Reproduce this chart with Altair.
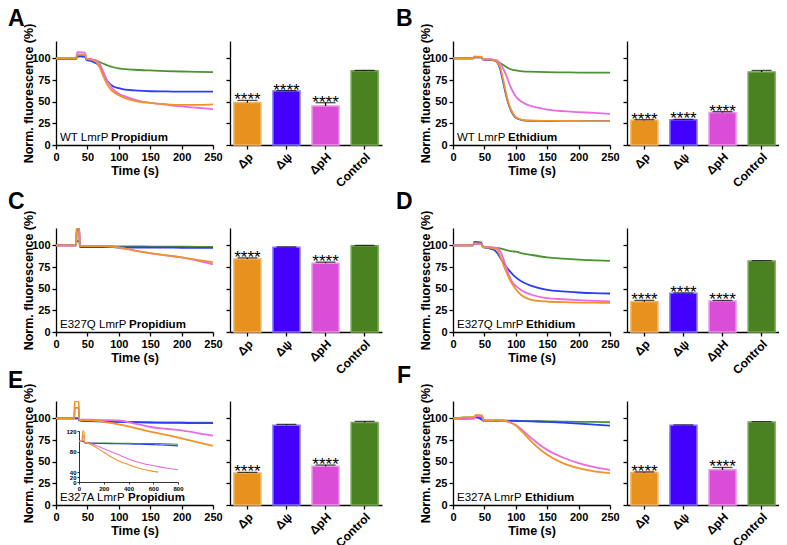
import altair as alt
import pandas as pd

FONT = "Liberation Sans"
SERIES = ["green", "blue", "magenta", "orange"]
LINE_COLORS = ["#4B9231", "#2B3DF8", "#E56DE1", "#F0932A"]
CATS = ["Δp", "Δψ", "ΔpH", "Control"]
BAR_FILL = ["#E8921E", "#4300FF", "#DA4ED7", "#4A8121"]
BAR_STROKE = ["#F2B264", "#7D72FF", "#EE92EC", "#76A852"]
X_TICKS = [0, 50, 100, 150, 200, 250]
Y_TICKS = [0, 25, 50, 75, 100]

# ---------------- Panel A : WT LmrP Propidium ----------------
tA = [0, 10, 20, 32, 34, 46, 49, 55, 60, 65, 70, 75, 80, 85, 90, 100, 110, 125, 150, 175, 200, 225, 250]
A_green = [99, 99, 99, 99, 102, 102, 99.5, 99, 98, 97, 95.5, 94, 92.5, 91, 90, 88.5, 87.5, 86.8, 86, 85.3, 84.8, 84.3, 84]
A_blue = [100, 100, 100, 100, 103, 102, 98, 97, 95.5, 94, 90, 83, 76, 71, 68, 65.5, 64, 63, 62, 61.8, 61.6, 61.5, 61.5]
A_magenta = [100, 100, 100, 100, 107, 106.5, 99.5, 99, 98.5, 97, 93, 85, 76, 70, 65, 59, 56, 52.5, 48.5, 46.5, 44.5, 43, 41.5]
A_orange = [100, 100, 100, 100, 104, 104, 99, 98.5, 97.5, 95, 89, 80, 72, 66, 62, 57.5, 54, 51, 48.5, 47, 46.2, 46.2, 46.8]
A_bar = [48.9, 62.2, 45.1, 85.7]
A_err = [2.5, 0.5, 3.7, 0.5]
A_star = [1, 1, 1, 0]

# ---------------- Panel B : WT LmrP Ethidium ----------------
tB = [0, 10, 20, 32, 34, 45, 48, 55, 60, 65, 70, 75, 80, 85, 90, 95, 100, 110, 120, 135, 150, 175, 200, 225, 250]
B_green = [100, 100, 100, 100, 101.5, 101, 99, 98.5, 98.5, 98, 96.5, 94.5, 92.3, 90, 88, 86.8, 86, 85, 84.7, 84.3, 84, 83.8, 83.6, 83.5, 83.5]
B_blue = [100, 100, 100, 100, 101.5, 101, 98.5, 98, 98, 97.5, 95.5, 88, 72, 56, 44, 36, 31.5, 28.8, 28, 27.8, 27.6, 27.5, 27.5, 27.5, 27.5]
B_magenta = [100, 100, 100, 100, 102, 101.5, 99, 99, 99, 98.5, 97.5, 94, 88, 80, 70, 62, 56, 49.5, 46, 43, 40.8, 39, 38, 37, 36]
B_orange = [100, 100, 100, 100, 102, 102, 99, 98.5, 98.5, 98, 96, 90, 75, 58, 45, 37, 32, 29, 28.2, 28, 27.8, 27.7, 27.7, 27.6, 27.6]
B_bar = [28.5, 29.0, 37.5, 84.3]
B_err = [0.7, 0.6, 1.0, 1.7]
B_star = [1, 1, 1, 0]

# ---------------- Panel C : E327Q LmrP Propidium ----------------
tC = [0, 10, 20, 30, 32, 33, 35, 37, 38, 50, 75, 90, 100, 125, 150, 175, 200, 225, 250]
C_green = [100, 100, 100, 100, 100, 105, 105, 105, 99, 99, 99, 99, 98.8, 98.8, 98.6, 98.5, 98.4, 98.3, 98.2]
C_blue = [100, 100, 100, 100, 100, 118, 118, 118, 98, 98, 98, 98, 97.5, 97.5, 97.5, 97.3, 97.2, 97, 97]
C_magenta = [100, 100, 100, 100, 100, 120, 120, 120, 99, 99, 99, 98.5, 97.5, 94, 91, 88.5, 86, 82.5, 78]
C_orange = [100, 100, 100, 100, 100, 120, 120, 120, 99, 99, 99, 98.5, 97.5, 94, 91, 88.5, 86, 83.2, 80.5]
C_bar = [84.3, 97.8, 79.4, 99.5]
C_err = [1.2, 0.3, 1.2, 0.5]
C_star = [1, 0, 1, 0]

# ---------------- Panel D : E327Q LmrP Ethidium ----------------
tD = [0, 10, 20, 32, 34, 45, 48, 55, 60, 65, 70, 75, 80, 85, 90, 95, 100, 110, 125, 150, 175, 200, 225, 250]
D_green = [100, 100, 100, 100, 102, 101.5, 98, 97.5, 97.5, 97, 97, 96.5, 95.5, 94.5, 93.5, 93, 92.7, 90.8, 88.9, 86.2, 84.7, 83.5, 82.7, 82]
D_blue = [100, 100, 100, 100, 104, 103, 98, 97, 96, 95, 91.5, 86, 80, 75, 70.5, 66.5, 63, 58, 53.3, 48.7, 46.8, 45.6, 44.8, 44.4]
D_magenta = [100, 100, 100, 100, 102, 101.5, 98.5, 98, 98, 97.5, 97, 93.5, 85, 74, 64, 57, 53.3, 47.5, 43, 39, 37.8, 36.8, 36, 35.3]
D_orange = [100, 100, 100, 100, 102.5, 102, 98, 97.5, 97, 96.5, 95, 88, 78, 69, 61, 54.5, 49.4, 41.8, 37.2, 35.2, 34.5, 34, 33.8, 33.7]
D_bar = [35.0, 44.7, 35.9, 82.0]
D_err = [1.5, 0.3, 0.5, 0.3]
D_star = [1, 1, 1, 0]

# ---------------- Panel E : E327A LmrP Propidium ----------------
tE = [0, 10, 20, 29, 30, 36, 37, 40, 50, 60, 75, 100, 125, 150, 175, 200, 225, 250]
E_green = [100, 100, 100, 100, 100, 100, 97.5, 97, 96.8, 96.6, 96.4, 96, 95.8, 95.5, 95.3, 95.2, 95, 95]
E_blue = [100, 100, 100, 100, 100, 100, 98, 97.5, 97, 96.8, 96.5, 96, 95.5, 95, 94.8, 94.7, 94.5, 94.5]
E_magenta = [100, 100, 100, 100, 112, 112, 98.5, 98.5, 98.5, 98.3, 98, 97.5, 94, 90, 88, 86.2, 83, 80]
E_orange = [100, 100, 100, 100, 120, 120, 98, 98, 98, 97.5, 96, 93, 89, 84.7, 80.8, 77, 72.5, 68.2]
E_bar = [37.0, 92.0, 44.6, 95.2]
E_err = [0.6, 1.0, 1.5, 1.2]
E_star = [1, 0, 1, 0]
# inset (long run, 0-800 s)
tEi = [0, 25, 30, 40, 45, 60, 100, 200, 300, 400, 500, 600, 640, 700, 800]
Ei_green = [100, 100, 100, 100, 97, 97, 96.5, 96.5, 96, 96, 95.5, 95.5, 95.5, 95, 94]
Ei_blue = [100, 100, 100, 100, 97, 96.5, 96, 95.5, 95, 94.5, 94, 93.5, 93, 92.5, 91]
Ei_magenta = [100, 100, 110, 110, 98, 97.5, 95, 85.5, 75.7, 65.4, 57.6, 52.3, 50.5, 47.8, 44.5]
Ei_orange = [100, 100, 120, 120, 98, 97, 93, 78.4, 64, 54.3, 46.4, 41.3, 39.4, None, None]

# ---------------- Panel F : E327A LmrP Ethidium ----------------
tF = [0, 10, 20, 30, 34, 36, 46, 49, 55, 60, 70, 80, 90, 100, 110, 125, 150, 175, 200, 225, 250]
F_green = [100, 100.5, 101, 101, 101, 102, 101, 98, 97.5, 97.5, 97.5, 97.5, 97.3, 97.2, 97, 96.8, 96.5, 96.2, 96, 95.8, 95.5]
F_blue = [100, 100, 100, 100, 100.5, 101, 98.5, 97, 97, 97, 97, 97, 97, 97, 96.8, 96.5, 96, 95, 94, 92.8, 91.5]
F_magenta = [100, 99, 99, 99.5, 99.5, 103, 102.5, 97, 97, 97, 97.5, 97, 95.5, 92.3, 86.6, 77, 63.6, 54.8, 48.3, 43.7, 40.6]
F_orange = [100, 100.5, 101, 101.5, 101.5, 104, 103.5, 98, 98, 98, 98, 97.5, 95.5, 91.6, 84.7, 73.2, 57.9, 48.3, 42.5, 38.7, 36.8]
F_bar = [37.5, 92.0, 40.6, 95.8]
F_err = [0.7, 0.4, 2.7, 0.4]
F_star = [1, 0, 1, 0]

LINE_W, BAR_W, H = 157, 152, 104
GAP_W = 37  # blank column between the two halves


def make_long(t, g, b, m, o):
    rows = []
    for name, vals in zip(SERIES, [g, b, m, o]):
        for ti, v in zip(t, vals):
            if v is not None:
                rows.append({"t": ti, "v": v, "s": name})
    return pd.DataFrame(rows)


def text_layer(txt, x, y, size, weight):
    return alt.Chart(pd.DataFrame({"txt": [txt]})).mark_text(
        font=FONT, fontSize=size, fontWeight=weight, align="left",
        baseline="alphabetic", color="black"
    ).encode(text="txt:N", x=alt.value(x), y=alt.value(y))


def spacer(w, h):
    return alt.Chart(pd.DataFrame({"txt": [""]})).mark_text().encode(
        text="txt:N", x=alt.value(0), y=alt.value(0)
    ).properties(width=w, height=h)


def line_panel(t, g, b, m, o, letter, lx, ly, norm_txt, bold_txt, bold_dx, inset=None):
    df = make_long(t, g, b, m, o)
    lines = alt.Chart(df).mark_line(strokeWidth=1.8, interpolate="monotone", clip=True).encode(
        x=alt.X("t:Q", scale=alt.Scale(domain=[0, 250], nice=False, zero=False),
                axis=alt.Axis(values=X_TICKS, title="Time (s)", titleY=19, labelFlush=False)),
        y=alt.Y("v:Q", scale=alt.Scale(domain=[0, 120], nice=False, zero=False),
                axis=alt.Axis(values=Y_TICKS, title="Norm. fluorescence (%)", titleX=-21,
                              labelFlush=False)),
        color=alt.Color("s:N", scale=alt.Scale(domain=SERIES, range=LINE_COLORS), legend=None),
    )
    layers = [lines]
    if inset is not None:
        ti, ig, ib, im, io = inset
        dfi = make_long(ti, ig, ib, im, io)
        ins = alt.Chart(dfi).mark_line(strokeWidth=1.1, interpolate="monotone").encode(
            x=alt.X("t:Q", scale=alt.Scale(domain=[0, 800], range=[23, 122], nice=False, zero=False),
                    axis=alt.Axis(orient="bottom", offset=-23, values=[0, 200, 400, 600, 800], title=None,
                                  labelFontSize=6, tickSize=2, labelPadding=1, domainWidth=0.8,
                                  tickWidth=0.8, labelOverlap=False, labelFlush=False,
                                  labelColor="black")),
            y=alt.Y("v:Q", scale=alt.Scale(domain=[0, 40, 120], range=[81, 71, 30], nice=False, zero=False),
                    axis=alt.Axis(orient="left", offset=-23, values=[0, 20, 40, 80, 120], title=None,
                                  labelFontSize=6, tickSize=2, labelPadding=1, domainWidth=0.8,
                                  tickWidth=0.8, labelOverlap=False, labelFlush=False,
                                  labelColor="black")),
            color=alt.Color("s:N", scale=alt.Scale(domain=SERIES, range=LINE_COLORS), legend=None),
        )
        layers.append(ins)
    layers += [
        text_layer(letter, lx, ly, 23, "bold"),
        text_layer(norm_txt, 4, 100, 11.5, "normal"),
        text_layer(bold_txt, 4 + bold_dx, 100, 11.5, "bold"),
    ]
    ch = alt.layer(*layers).properties(width=LINE_W, height=H)
    if inset is not None:
        ch = ch.resolve_scale(x="independent", y="independent")
    return ch


def bar_panel(vals, errs, stars):
    df = pd.DataFrame({"cat": CATS, "val": vals, "err": errs, "star": stars})
    base = alt.Chart(df).transform_calculate(top="datum.val + datum.err")
    xenc = alt.X("cat:N", sort=CATS,
                 scale=alt.Scale(domain=CATS, paddingInner=0.31, paddingOuter=0.1),
                 axis=alt.Axis(title=None, labelAngle=315, labelFontSize=12))
    yscale = alt.Scale(domain=[0, 120], nice=False, zero=False)
    yaxis = alt.Axis(values=[0, 25, 50, 75, 100], labels=False, title=None)
    bars = base.mark_bar(strokeWidth=1.5).encode(
        x=xenc,
        y=alt.Y("val:Q", scale=yscale, axis=yaxis),
        fill=alt.Fill("cat:N", scale=alt.Scale(domain=CATS, range=BAR_FILL), legend=None),
        stroke=alt.Stroke("cat:N", scale=alt.Scale(domain=CATS, range=BAR_STROKE), legend=None),
    )
    rule = base.mark_rule(color="black", strokeWidth=1.3).encode(
        x=xenc, y=alt.Y("val:Q", scale=yscale, axis=yaxis), y2="top:Q")
    cap = base.mark_tick(color="black", thickness=1.3, size=20).encode(
        x=xenc, y=alt.Y("top:Q", scale=yscale, axis=yaxis))
    star = base.transform_filter("datum.star == 1").mark_text(
        text="****", font=FONT, fontSize=17, dy=5, baseline="alphabetic", color="black"
    ).encode(x=xenc, y=alt.Y("top:Q", scale=yscale, axis=yaxis))
    return alt.layer(bars, rule, cap, star).properties(width=BAR_W, height=H)


lineA = line_panel(tA, A_green, A_blue, A_magenta, A_orange, "A", -48, -15, "WT LmrP", "Propidium", 51)
lineB = line_panel(tB, B_green, B_blue, B_magenta, B_orange, "B", -57, -15, "WT LmrP", "Ethidium", 51)
lineC = line_panel(tC, C_green, C_blue, C_magenta, C_orange, "C", -48, -19, "E327Q LmrP", "Propidium", 69)
lineD = line_panel(tD, D_green, D_blue, D_magenta, D_orange, "D", -57, -19, "E327Q LmrP", "Ethidium", 69)
lineE = line_panel(tE, E_green, E_blue, E_magenta, E_orange, "E", -48, -13, "E327A LmrP", "Propidium", 68,
                   inset=(tEi, Ei_green, Ei_blue, Ei_magenta, Ei_orange))
lineF = line_panel(tF, F_green, F_blue, F_magenta, F_orange, "F", -56, -18, "E327A LmrP", "Ethidium", 68)

barA = bar_panel(A_bar, A_err, A_star)
barB = bar_panel(B_bar, B_err, B_star)
barC = bar_panel(C_bar, C_err, C_star)
barD = bar_panel(D_bar, D_err, D_star)
barE = bar_panel(E_bar, E_err, E_star)
barF = bar_panel(F_bar, F_err, F_star)


def spacer_row(h):
    return [spacer(LINE_W, h), spacer(BAR_W, h), spacer(GAP_W, h), spacer(LINE_W, h), spacer(BAR_W, h)]


cells = (
    [lineA, barA, spacer(GAP_W, H), lineB, barB]
    + spacer_row(23)
    + [lineC, barC, spacer(GAP_W, H), lineD, barD]
    + spacer_row(9)
    + [lineE, barE, spacer(GAP_W, H), lineF, barF]
)

chart = alt.concat(
    *cells, columns=5, bounds="flush", spacing={"row": 30, "column": 17}, padding=0,
).configure(font=FONT).configure_view(stroke=None).configure_axis(
    domainColor="black", domainWidth=1.3, tickColor="black", tickWidth=1.3, tickSize=4,
    labelFont=FONT, labelFontWeight="bold", labelFontSize=11, labelColor="black", labelPadding=2,
    titleFont=FONT, titleFontWeight="bold", titleFontSize=12.5, titleColor="black", grid=False,
)

chart.save("out.html", embed_options={"renderer": "svg", "actions": False})
